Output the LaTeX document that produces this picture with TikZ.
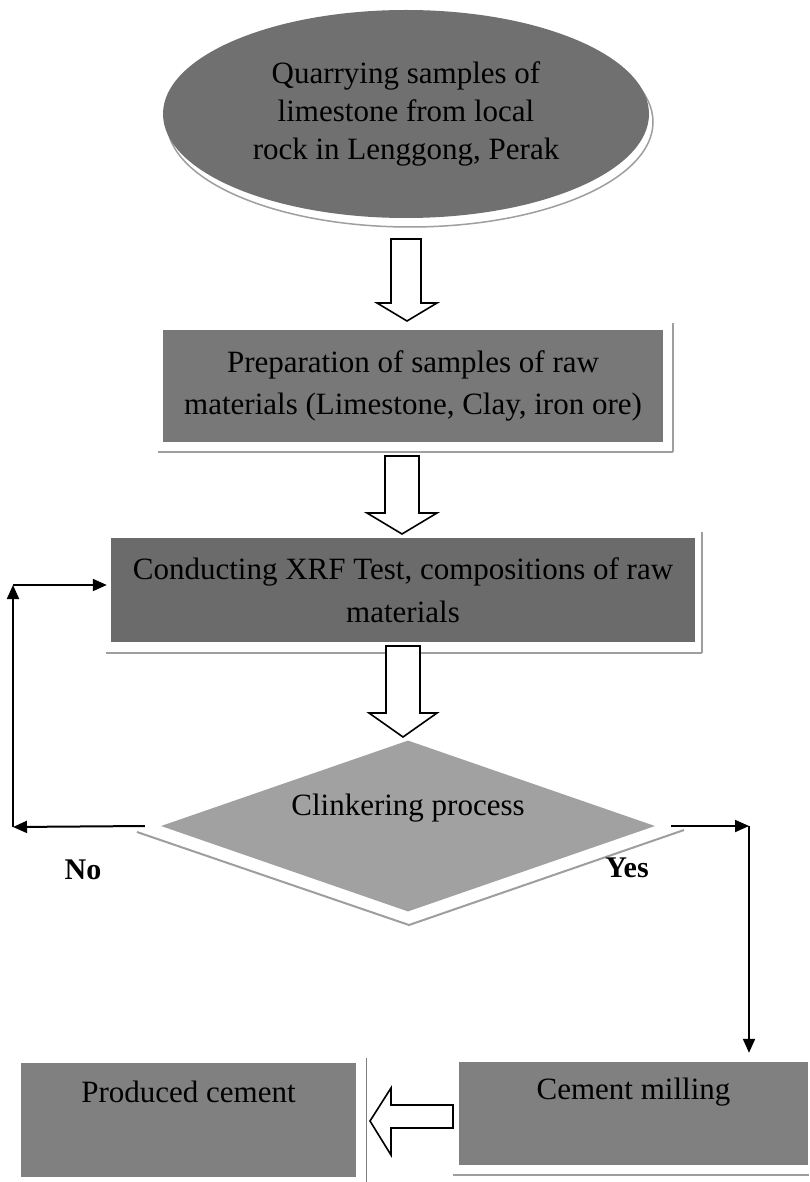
\documentclass[tikz,border=0pt]{standalone}
\usepackage{fontspec}
\setmainfont{Liberation Serif}
\usetikzlibrary{arrows.meta,shapes.geometric}
\definecolor{ellfill}{gray}{0.44}
\definecolor{boxfill}{gray}{0.47}
\definecolor{xrffill}{gray}{0.42}
\definecolor{diafill}{gray}{0.63}
\definecolor{lowfill}{gray}{0.50}
\definecolor{rim}{gray}{0.62}
\begin{document}
\begin{tikzpicture}[x=1pt,y=-1pt,
  txt/.style={font=\fontsize{31}{42}\selectfont, align=center},
  flowbox/.style={rectangle, inner sep=0pt, txt},
  rimline/.style={draw=rim, line width=2pt},
  blockarrow/.style={draw=black, line width=1.6pt, fill=white, line join=miter},
  conn/.style={draw=black, line width=2pt, -{Triangle[length=14pt,width=12pt]}},
  yn/.style={font=\fontsize{30}{36}\selectfont\bfseries}
]
\useasboundingbox (0,0) rectangle (809,1182);
\fill[white] (0,0) rectangle (809,1182);

% ellipse with rim
\draw[rim, line width=1.5pt, fill=white] (410,122) ellipse [x radius=243pt, y radius=105pt];
\node[ellipse, fill=ellfill, minimum width=486pt, minimum height=208pt, inner sep=0pt,
      font=\fontsize{31}{38}\selectfont, align=center] (ell) at (406,114)
  {Quarrying samples of\\limestone from local\\rock in Lenggong, Perak};

% preparation box
\draw[rimline] (158,452) -- (673,452);
\draw[rimline] (673,323) -- (673,452);
\node[flowbox, fill=boxfill, minimum width=500pt, minimum height=112pt] (prep) at (413,386)
  {Preparation of samples of raw\\materials (Limestone, Clay, iron ore)};

% XRF box
\draw[rimline] (106,653) -- (702,653);
\draw[rimline] (702,532) -- (702,653);
\node[flowbox, fill=xrffill, minimum width=584pt, minimum height=104pt, font=\fontsize{31}{43}\selectfont] (xrf) at (403,590)
  {Conducting XRF Test, compositions of raw\\materials};

% diamond with rim
\draw[rimline] (137,832) -- (409,925) -- (684,830);
\node[diamond, fill=diafill, minimum width=494pt, minimum height=171pt, inner sep=0pt,
      label={[txt, yshift=18pt]center:Clinkering process}] (clk) at (408,826) {};

% bottom boxes
\draw[rimline] (453,1175) -- (809,1175);
\node[flowbox, fill=lowfill, minimum width=349pt, minimum height=103pt,
      label={[txt, yshift=21pt]center:Cement milling}] (mill) at (633.5,1113.5) {};
\draw[draw=rim!80!black, line width=1pt] (366,1058) -- (366,1182);
\node[flowbox, fill=lowfill, minimum width=335pt, minimum height=114pt,
      label={[txt, yshift=28pt]center:Produced cement}] (prod) at (188.5,1120) {};

% block arrows
\draw[blockarrow] (391,239) -- (421,239) -- (421,303) -- (437,303) -- (407,321) -- (377,303) -- (391,303) -- cycle;
\draw[blockarrow] (385,456) -- (419,456) -- (419,513) -- (437,513) -- (402,534) -- (367,513) -- (385,513) -- cycle;
\draw[blockarrow] (386,646) -- (420,646) -- (420,713) -- (437,713) -- (403,737) -- (369,713) -- (386,713) -- cycle;
\draw[blockarrow] (453,1105) -- (391,1105) -- (391,1088) -- (370,1121) -- (391,1155) -- (391,1128) -- (453,1128) -- cycle;

% decision connectors
\coordinate (noL) at (13,827);
\coordinate (noT) at (13,585);
\coordinate (yesR) at (749,826);
\draw[conn] ([xshift=-16pt]clk.west) -- (noL);
\draw[conn] (noL) -- (noT);
\draw[conn, shorten >=4pt] (noT) -- (xrf.west |- noT);
\draw[conn] ([xshift=16pt]clk.east) -- (yesR);
\draw[conn, shorten >=9pt] (yesR) -- (yesR |- mill.north);

\node[yn] (no) at (83,870) {No};
\node[yn] (yes) at (627,868) {Yes};
\end{tikzpicture}
\end{document}
